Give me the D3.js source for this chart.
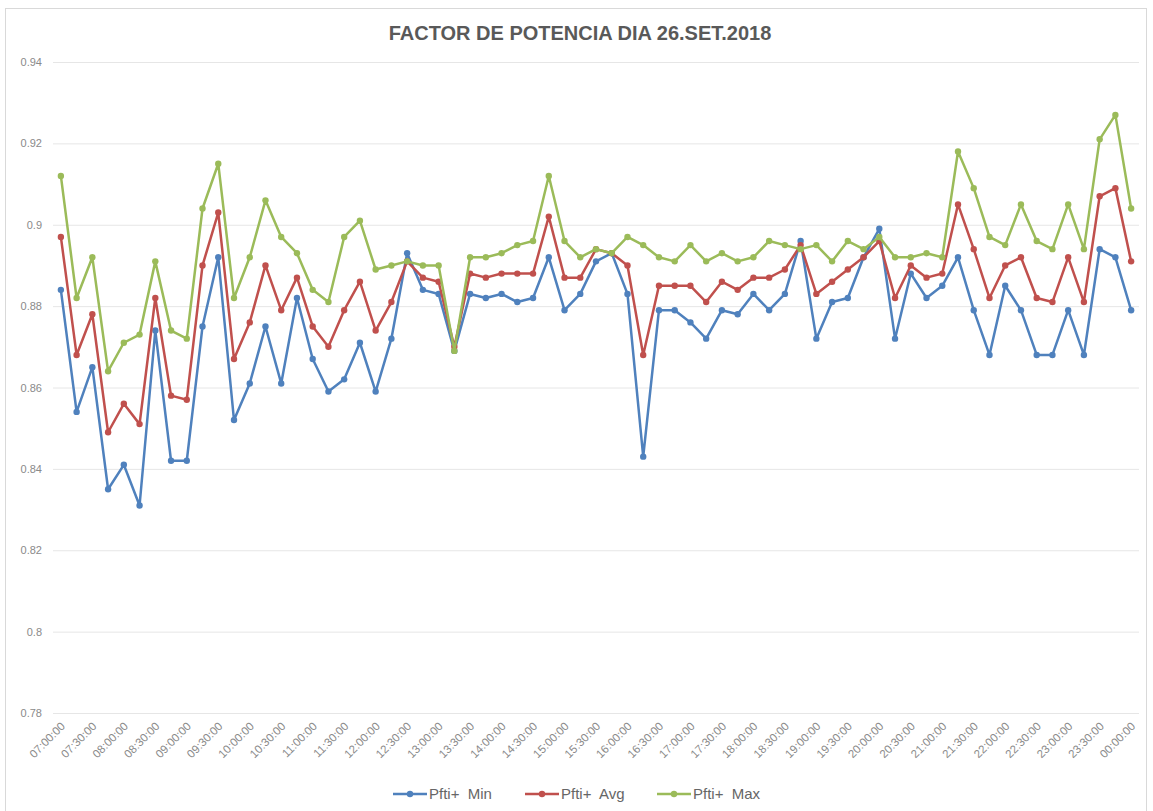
<!DOCTYPE html>
<html>
<head>
<meta charset="utf-8">
<script src="https://cdn.jsdelivr.net/npm/d3@7"></script>
<style>
  body { margin: 0; background: #fff; }
  svg { display: block; font-family: "Liberation Sans", Arial, sans-serif; }
</style>
</head>
<body>
<svg width="1153" height="811"></svg>
<script>
// categories (15 min readings)
var times = ["07:00:00","07:15:00","07:30:00","07:45:00","08:00:00","08:15:00","08:30:00","08:45:00",
  "09:00:00","09:15:00","09:30:00","09:45:00","10:00:00","10:15:00","10:30:00","10:45:00",
  "11:00:00","11:15:00","11:30:00","11:45:00","12:00:00","12:15:00","12:30:00","12:45:00",
  "13:00:00","13:15:00","13:30:00","13:45:00","14:00:00","14:15:00","14:30:00","14:45:00",
  "15:00:00","15:15:00","15:30:00","15:45:00","16:00:00","16:15:00","16:30:00","16:45:00",
  "17:00:00","17:15:00","17:30:00","17:45:00","18:00:00","18:15:00","18:30:00","18:45:00",
  "19:00:00","19:15:00","19:30:00","19:45:00","20:00:00","20:15:00","20:30:00","20:45:00",
  "21:00:00","21:15:00","21:30:00","21:45:00","22:00:00","22:15:00","22:30:00","22:45:00",
  "23:00:00","23:15:00","23:30:00","23:45:00","00:00:00"];

var pftiMin = [0.884,0.854,0.865,0.835,0.841,0.831,0.874,0.842,0.842,0.875,0.892,0.852,0.861,0.875,0.861,0.882,
  0.867,0.859,0.862,0.871,0.859,0.872,0.893,0.884,0.883,0.869,0.883,0.882,0.883,0.881,0.882,0.892,
  0.879,0.883,0.891,0.893,0.883,0.843,0.879,0.879,0.876,0.872,0.879,0.878,0.883,0.879,0.883,0.896,
  0.872,0.881,0.882,0.892,0.899,0.872,0.888,0.882,0.885,0.892,0.879,0.868,0.885,0.879,0.868,0.868,
  0.879,0.868,0.894,0.892,0.879];

var pftiAvg = [0.897,0.868,0.878,0.849,0.856,0.851,0.882,0.858,0.857,0.890,0.903,0.867,0.876,0.890,0.879,0.887,
  0.875,0.870,0.879,0.886,0.874,0.881,0.891,0.887,0.886,0.870,0.888,0.887,0.888,0.888,0.888,0.902,
  0.887,0.887,0.894,0.893,0.890,0.868,0.885,0.885,0.885,0.881,0.886,0.884,0.887,0.887,0.889,0.895,
  0.883,0.886,0.889,0.892,0.896,0.882,0.890,0.887,0.888,0.905,0.894,0.882,0.890,0.892,0.882,0.881,
  0.892,0.881,0.907,0.909,0.891];

var pftiMax = [0.912,0.882,0.892,0.864,0.871,0.873,0.891,0.874,0.872,0.904,0.915,0.882,0.892,0.906,0.897,0.893,
  0.884,0.881,0.897,0.901,0.889,0.890,0.891,0.890,0.890,0.869,0.892,0.892,0.893,0.895,0.896,0.912,
  0.896,0.892,0.894,0.893,0.897,0.895,0.892,0.891,0.895,0.891,0.893,0.891,0.892,0.896,0.895,0.894,
  0.895,0.891,0.896,0.894,0.897,0.892,0.892,0.893,0.892,0.918,0.909,0.897,0.895,0.905,0.896,0.894,
  0.905,0.894,0.921,0.927,0.904];

var yTicks = [0.78, 0.80, 0.82, 0.84, 0.86, 0.88, 0.90, 0.92, 0.94];

var series = [
  { name: "Pfti+  Min", values: pftiMin, color: "#4f81bd" },
  { name: "Pfti+  Avg", values: pftiAvg, color: "#c0504d" },
  { name: "Pfti+  Max", values: pftiMax, color: "#9bbb59" }
];

var svg = d3.select("svg");
var plotL = 53, plotR = 1139, plotT = 62, plotB = 713;

// chart border
svg.append("rect")
  .attr("x", 5.5).attr("y", 8.5)
  .attr("width", 1141).attr("height", 810)
  .attr("fill", "#fff")
  .attr("stroke", "#d9d9d9");

var x = d3.scalePoint().domain(times).range([plotL, plotR]).padding(0.5);
var y = d3.scaleLinear().domain([0.78, 0.94]).range([plotB, plotT]);

// grid + y labels
var yAxis = d3.axisLeft(y)
  .tickValues(yTicks)
  .tickSize(-(plotR - plotL))
  .tickPadding(11)
  .tickFormat(function(d) { return d3.format("~g")(+d.toFixed(2)); });

var gy = svg.append("g")
  .attr("transform", "translate(" + plotL + ",0)")
  .call(yAxis);
gy.select(".domain").remove();
gy.selectAll("line").attr("stroke", "#e6e6e6");
gy.selectAll("text")
  .attr("fill", "#8a8a8a")
  .style("font-size", "11px");

// x labels, every second category
var gx = svg.append("g");
gx.selectAll("text")
  .data(times.filter(function(d, i) { return i % 2 === 0; }))
  .enter()
  .append("text")
  .attr("transform", function(d) { return "translate(" + (x(d) + 5) + "," + (plotB + 14) + ") rotate(-45)"; })
  .attr("text-anchor", "end")
  .attr("fill", "#8a8a8a")
  .style("font-size", "11.5px")
  .text(function(d) { return d; });

// lines
var line = d3.line()
  .x(function(d, i) { return x(times[i]); })
  .y(function(d) { return y(d); });

series.forEach(function(s) {
  var g = svg.append("g");
  g.append("path")
    .attr("d", line(s.values))
    .attr("fill", "none")
    .attr("stroke", s.color)
    .attr("stroke-width", 2.5)
    .attr("stroke-linejoin", "round");
  g.selectAll("circle")
    .data(s.values)
    .enter()
    .append("circle")
    .attr("cx", function(d, i) { return x(times[i]); })
    .attr("cy", function(d) { return y(d); })
    .attr("r", 3.2)
    .attr("fill", s.color);
});

// title
svg.append("text")
  .attr("x", 580).attr("y", 40)
  .attr("text-anchor", "middle")
  .attr("fill", "#595959")
  .style("font-size", "20px")
  .style("font-weight", "bold")
  .text("FACTOR DE POTENCIA DIA 26.SET.2018");

// legend
var legX = [393, 525, 657];
var leg = svg.append("g");
series.forEach(function(s, i) {
  var lg = leg.append("g").attr("transform", "translate(" + legX[i] + ",794)");
  lg.append("line")
    .attr("x1", 0).attr("x2", 34)
    .attr("stroke", s.color).attr("stroke-width", 2.5);
  lg.append("circle").attr("cx", 17).attr("r", 3.2).attr("fill", s.color);
  lg.append("text")
    .attr("x", 36).attr("y", 5)
    .attr("fill", "#666")
    .style("font-size", "15px")
    .style("white-space", "pre")
    .text(s.name);
});
</script>
</body>
</html>
